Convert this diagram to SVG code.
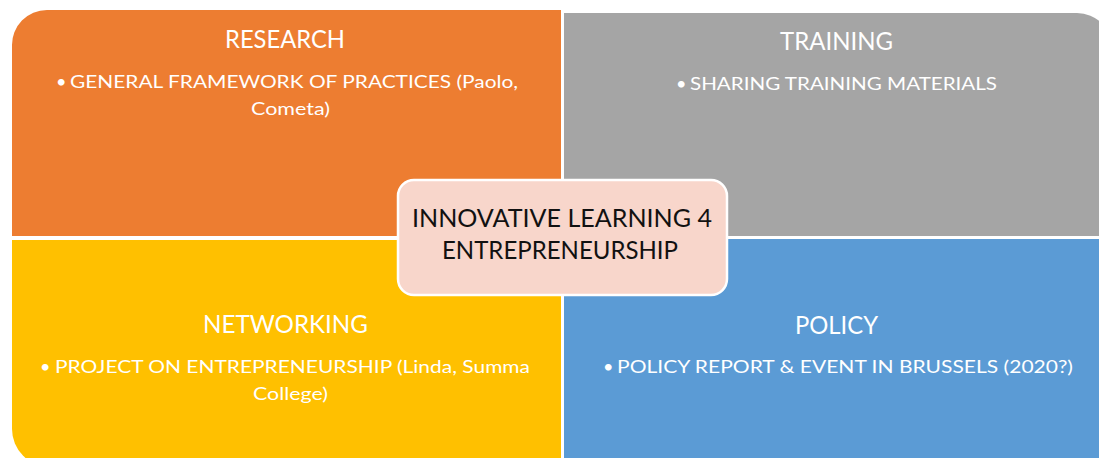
<svg xmlns="http://www.w3.org/2000/svg" width="1099" height="458" viewBox="0 0 1099 458">
<style>
.t{font-family:Lato,"Liberation Sans",sans-serif;fill:#ffffff}
.h{font-size:25px}
.b{font-size:18px}
.c{font-family:Lato,"Liberation Sans",sans-serif;font-size:25px;fill:#111111}
</style>
<rect width="1099" height="458" fill="#ffffff"/>
<g id="research">
<path d="M12,46 A35,35 0 0 1 47,10 L561,10 L561,236 L12,236 Z" fill="#ED7D31"/>
<text class="t h" x="225" y="48" textLength="120" lengthAdjust="spacingAndGlyphs">RESEARCH</text>
<text class="t b" x="56" y="88">•</text>
<text class="t b" x="70" y="88" textLength="448" lengthAdjust="spacingAndGlyphs">GENERAL FRAMEWORK OF PRACTICES (Paolo,</text>
<text class="t b" x="251" y="115" textLength="79" lengthAdjust="spacingAndGlyphs">Cometa)</text>
</g>
<g id="training">
<path d="M564,13 L1077,13 A35,35 0 0 1 1112,48 L1112,236 L564,236 Z" fill="#A5A5A5"/>
<text class="t h" x="780" y="50" textLength="113" lengthAdjust="spacingAndGlyphs">TRAINING</text>
<text class="t b" x="676" y="90">•</text>
<text class="t b" x="690" y="90" textLength="307" lengthAdjust="spacingAndGlyphs">SHARING TRAINING MATERIALS</text>
</g>
<g id="networking">
<path d="M12,240 L561,240 L561,467 L50,467 A38,38 0 0 1 12,429 Z" fill="#FFC000"/>
<text class="t h" x="203" y="333" textLength="165" lengthAdjust="spacingAndGlyphs">NETWORKING</text>
<text class="t b" x="40" y="373">•</text>
<text class="t b" x="55" y="373" textLength="475" lengthAdjust="spacingAndGlyphs">PROJECT ON ENTREPRENEURSHIP (Linda, Summa</text>
<text class="t b" x="253" y="400" textLength="75" lengthAdjust="spacingAndGlyphs">College)</text>
</g>
<g id="policy">
<path d="M564,239 L1112,239 L1112,432 A38,38 0 0 1 1074,470 L564,470 Z" fill="#5B9BD5"/>
<text class="t h" x="795" y="334" textLength="83" lengthAdjust="spacingAndGlyphs">POLICY</text>
<text class="t b" x="603" y="373">•</text>
<text class="t b" x="617" y="373" textLength="456" lengthAdjust="spacingAndGlyphs">POLICY REPORT &amp; EVENT IN BRUSSELS (2020?)</text>
</g>
<g id="center">
<rect x="398" y="180" width="329" height="115" rx="16" ry="16" fill="#F8D6CB" stroke="#ffffff" stroke-width="2.5"/>
<text class="c" x="412" y="227" textLength="300" lengthAdjust="spacingAndGlyphs">INNOVATIVE LEARNING 4</text>
<text class="c" x="442" y="259" textLength="236" lengthAdjust="spacingAndGlyphs">ENTREPRENEURSHIP</text>
</g>
<g id="connectors"/>
</svg>
